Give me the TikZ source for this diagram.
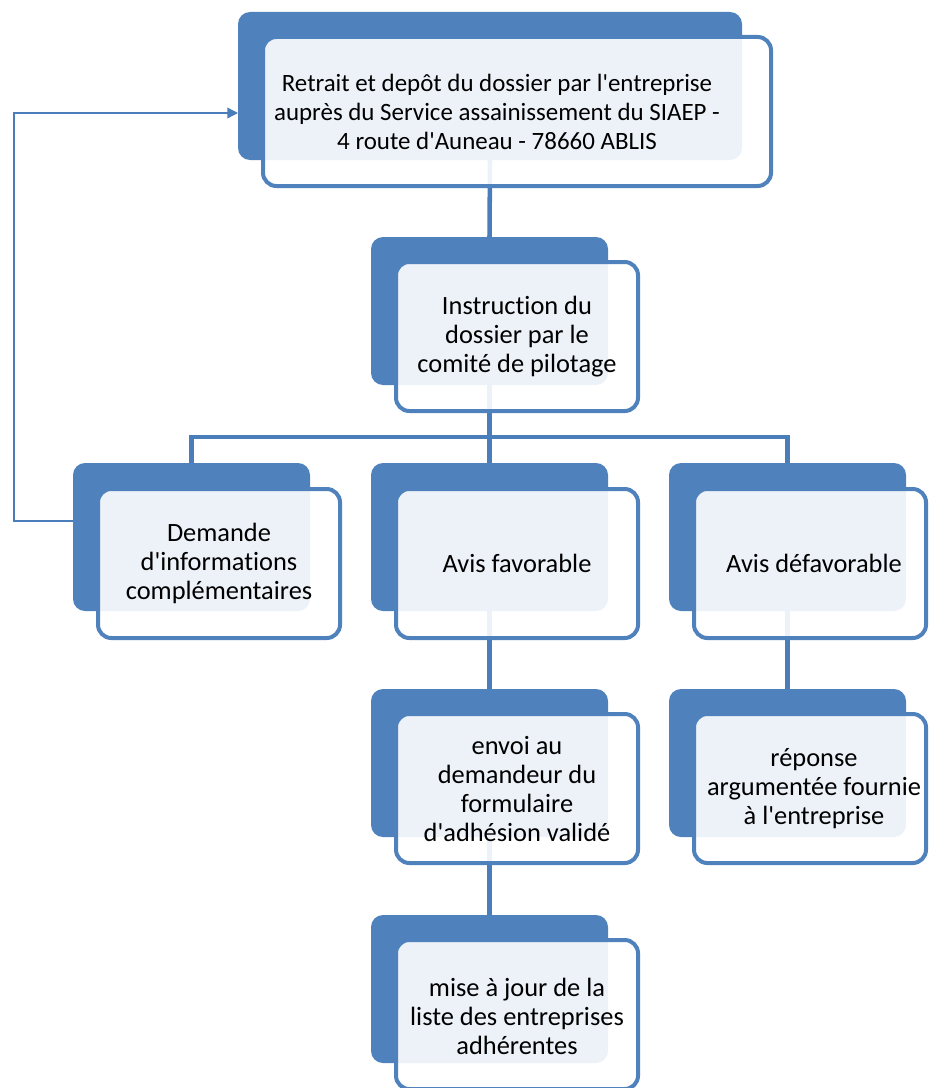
\documentclass[tikz,border=0pt]{standalone}
\usepackage{fontspec}
\setmainfont{Carlito}[Ligatures={NoCommon}]
\usetikzlibrary{arrows.meta}
\definecolor{accent}{HTML}{4F81BD}
\definecolor{connc}{HTML}{4A7EBB}
\newcommand{\aq}{\textquotesingle}
\tikzset{
  backbox/.style={draw=none, fill=accent, rounded corners=9pt, inner sep=0pt, outer sep=0pt, anchor=north west},
  frontbox/.style={draw=accent, line width=3pt, fill=white, fill opacity=0.9, draw opacity=1, rounded corners=10pt, inner sep=0pt, outer sep=0pt, anchor=north west, minimum height=111.75pt},
  smallback/.style={backbox, minimum width=177.75pt, minimum height=111pt},
  label/.style={align=center, inner sep=0pt, font=\fontsize{19.8}{21.75}\selectfont, text=black},
  toplabel/.style={label, font=\fontsize{18.7}{21.75}\selectfont},
  conn/.style={draw=connc, line width=3.4pt},
  fb/.style={draw=connc, line width=1.1pt, -{Triangle[length=8pt,width=8pt]}}
}
\begin{document}
\begin{tikzpicture}[x=0.75pt,y=-0.75pt]
\useasboundingbox (0,0) rectangle (928,1088);
\path
  node[backbox, minimum width=378pt, minimum height=111pt, fill=none] (b1) at (238,12) {}
  node[smallback, fill=none] (b2) at (371,237) {}
  node[smallback, fill=none] (b3a) at (73,463) {}
  node[smallback, fill=none] (b3b) at (371,463) {}
  node[smallback, fill=none] (b3c) at (669,463) {}
  node[smallback, fill=none] (b4b) at (371,689) {}
  node[smallback, fill=none] (b4c) at (669,689) {}
  node[smallback, fill=none] (b5) at (371,915) {};
\coordinate (bus) at (489.5,437);
% connectors
\draw[conn] (b1.south) -- (b2.north);
\draw[conn] (b2.south) -- (bus);
\draw[conn] (b3a.north) |- (bus) -| (b3c.north);
\draw[conn] (bus) -- (b3b.north);
\draw[conn] (b3b.south) -- (b4b.north);
\draw[conn] (b3c.south) -- (b4c.north);
\draw[conn] (b4b.south) -- (b5.north);
% back boxes filled
\foreach \n in {b1,b2,b3a,b3b,b3c,b4b,b4c,b5}
  \fill[accent, rounded corners=9pt] (\n.north west) rectangle (\n.south east);
% front boxes
\node[frontbox, minimum width=381pt] (f1) at (263,37) {};
\node[frontbox, minimum width=181.5pt] (f2) at (396,262) {};
\node[frontbox, minimum width=181.5pt] (f3a) at (98,489) {};
\node[frontbox, minimum width=181.5pt] (f3b) at (396,489) {};
\node[frontbox, minimum width=174pt] (f3c) at (694,489) {};
\node[frontbox, minimum width=181.5pt] (f4b) at (396,714) {};
\node[frontbox, minimum width=174pt] (f4c) at (694,714) {};
\node[frontbox, minimum width=181.5pt] (f5) at (396,940) {};
% texts
\node[toplabel] (t1) at (497,112) {Retrait et depôt du dossier par l\aq entreprise\\auprès du Service assainissement du SIAEP -\\4 route d\aq Auneau - 78660 ABLIS};
\node[label] (t2) at (517,337) {Instruction du\\dossier par le\\comité de pilotage};
\node[label] (t3a) at (219,563) {Demande\\d\aq informations\\complémentaires};
\node[label] (t3b) at (517,563) {Avis favorable};
\node[label] (t3c) at (814,563) {Avis défavorable};
\node[label] (t4b) at (517,789) {envoi au\\demandeur du\\formulaire\\d\aq adhésion validé};
\node[label] (t4c) at (814,789) {réponse\\argumentée fournie\\à l\aq entreprise};
\node[label] (t5) at (517,1016) {mise à jour de la\\liste des entreprises\\adhérentes};
% feedback arrow
\draw[fb] ([yshift=12pt]b3a.west) -- ++(-59,0) |- ([yshift=-20.25pt]b1.west);
\end{tikzpicture}
\end{document}
